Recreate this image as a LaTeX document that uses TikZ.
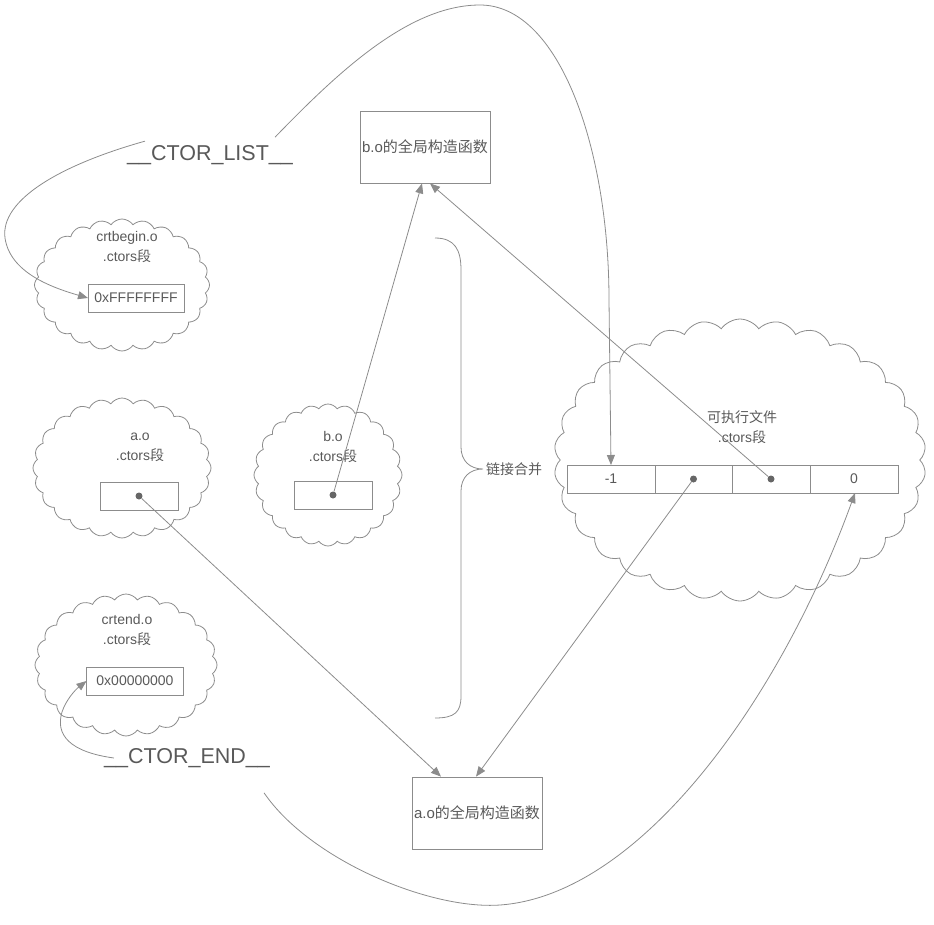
\documentclass[tikz,border=0pt]{standalone}
\usepackage{fontspec}
\setmainfont{Liberation Sans}
\newfontfamily\cjk{Noto Sans CJK SC}
\usetikzlibrary{arrows.meta,positioning,shapes.symbols}

\definecolor{linegray}{gray}{0.55}
\definecolor{txtgray}{gray}{0.35}
\definecolor{dotgray}{gray}{0.4}

\begin{document}
\begin{tikzpicture}[
    x=1pt, y=-1pt,
    puff/.style={cloud, cloud puffs=24, cloud puff arc=110, cloud ignores aspect, draw=linegray, line width=0.8pt},
    fnbox/.style={draw=linegray, line width=0.8pt, minimum width=130, minimum height=72, inner sep=0, font=\fontsize{15}{17}\selectfont, text=txtgray},
    slot/.style={draw=linegray, line width=0.8pt, minimum height=28, inner sep=2, outer sep=0, font=\fontsize{14}{16}\selectfont, text=txtgray},
    lbl/.style={text=txtgray, align=center, font=\fontsize{14}{20}\selectfont},
    big/.style={text=txtgray, inner sep=0, font=\fontsize{21.5}{24}\selectfont},
    ptr/.style={draw=linegray, line width=0.8pt, -{Triangle[width=8pt,length=10pt]}},
    dot/.style={circle, fill=dotgray, inner sep=0, minimum size=7}
  ]
    \useasboundingbox (0,0) rectangle (934,924);

    % clouds
    \node[puff, minimum width=175, minimum height=132] (cloudbegin) at (122,285) {};
    \node[puff, minimum width=178, minimum height=140] (cloudao) at (122,468) {};
    \node[puff, minimum width=148, minimum height=142] (cloudbo) at (328,475) {};
    \node[puff, minimum width=182, minimum height=142] (cloudend) at (126,665) {};
    \node[puff, minimum width=372, minimum height=282, cloud puffs=30] (cloudexe) at (740,460) {};

    % cloud labels
    \node[lbl] at (127,247) {crtbegin.o\\.ctors{\cjk 段}};
    \node[lbl] at (140,447) {a.o\\.ctors{\cjk 段}};
    \node[lbl] at (333,447) {b.o\\.ctors{\cjk 段}};
    \node[lbl] at (127,630) {crtend.o\\.ctors{\cjk 段}};
    \node[lbl] at (742,427) {{\cjk 可执行文件}\\.ctors{\cjk 段}};

    % slots
    \node[slot, minimum width=96] (ffff) at (136,298) {0xFFFFFFFF};
    \node[slot, minimum width=97] (zero) at (135,681) {0x00000000};
    \node[slot, minimum width=78] (aslot) at (139,496) {};
    \node[dot] (adot) at (aslot.center) {};
    \node[slot, minimum width=78] (bslot) at (333,495) {};
    \node[dot] (bdot) at (bslot.center) {};

    % executable array
    \node[slot, minimum width=88] (cm1) at (611,479) {-1};
    \node[slot, minimum width=77, right=0pt of cm1] (cd1) {};
    \node[slot, minimum width=78, right=0pt of cd1] (cd2) {};
    \node[slot, minimum width=88, right=0pt of cd2] (cz) {0};
    \node[dot] (edot1) at (cd1.center) {};
    \node[dot] (edot2) at (cd2.center) {};

    % constructor boxes
    \node[fnbox] (bfn) at (425,147) {b.o{\cjk 的全局构造函数}};
    \node[fnbox] (afn) at (477,813) {a.o{\cjk 的全局构造函数}};

    % symbols
    \node[big] (clist) at (210,155) {\_\_CTOR\_LIST\_\_};
    \node[big] (cend) at (187,758) {\_\_CTOR\_END\_\_};

    % brace
    \draw[linegray, line width=0.8pt] (435,238) .. controls (455,238) and (461,250) .. (461,270)
      -- (461,447) .. controls (461,461) and (470,469) .. (483,469)
      .. controls (470,469) and (461,477) .. (461,491)
      -- (461,696) .. controls (461,712) and (455,718) .. (435,718);
    \node[lbl, anchor=west, inner sep=1] (merge) at (485,469) {{\cjk 链接合并}};

    % pointers
    \draw[ptr] (clist.north east) ++(-18,-8) .. controls (340,70) and (410,5) .. (480,5)
      .. controls (560,5) and (609,150) .. (609,300) -- (cm1.north);
    \draw[ptr] (clist.north west) ++(18,-4) .. controls (60,165) and (0,200) .. (5,238)
      .. controls (10,272) and (50,287) .. (ffff.west);
    \draw[ptr] (cend.west) ++(10,0) .. controls (70,752) and (55,735) .. (62,712)
      .. controls (66,700) and (75,690) .. (zero.west);
    \draw[ptr] (cend.south east) ++(-6,25) .. controls (310,860) and (430,910) .. (500,905)
      .. controls (640,895) and (780,700) .. ([xshift=1]cz.south);
    \draw[ptr] (adot) -- ([xshift=-36]afn.north);
    \draw[ptr] (edot1) -- ([xshift=-1]afn.north);
    \draw[ptr] (bdot) -- ([xshift=-3]bfn.south);
    \draw[ptr] (edot2) -- ([xshift=5]bfn.south);
\end{tikzpicture}
\end{document}
